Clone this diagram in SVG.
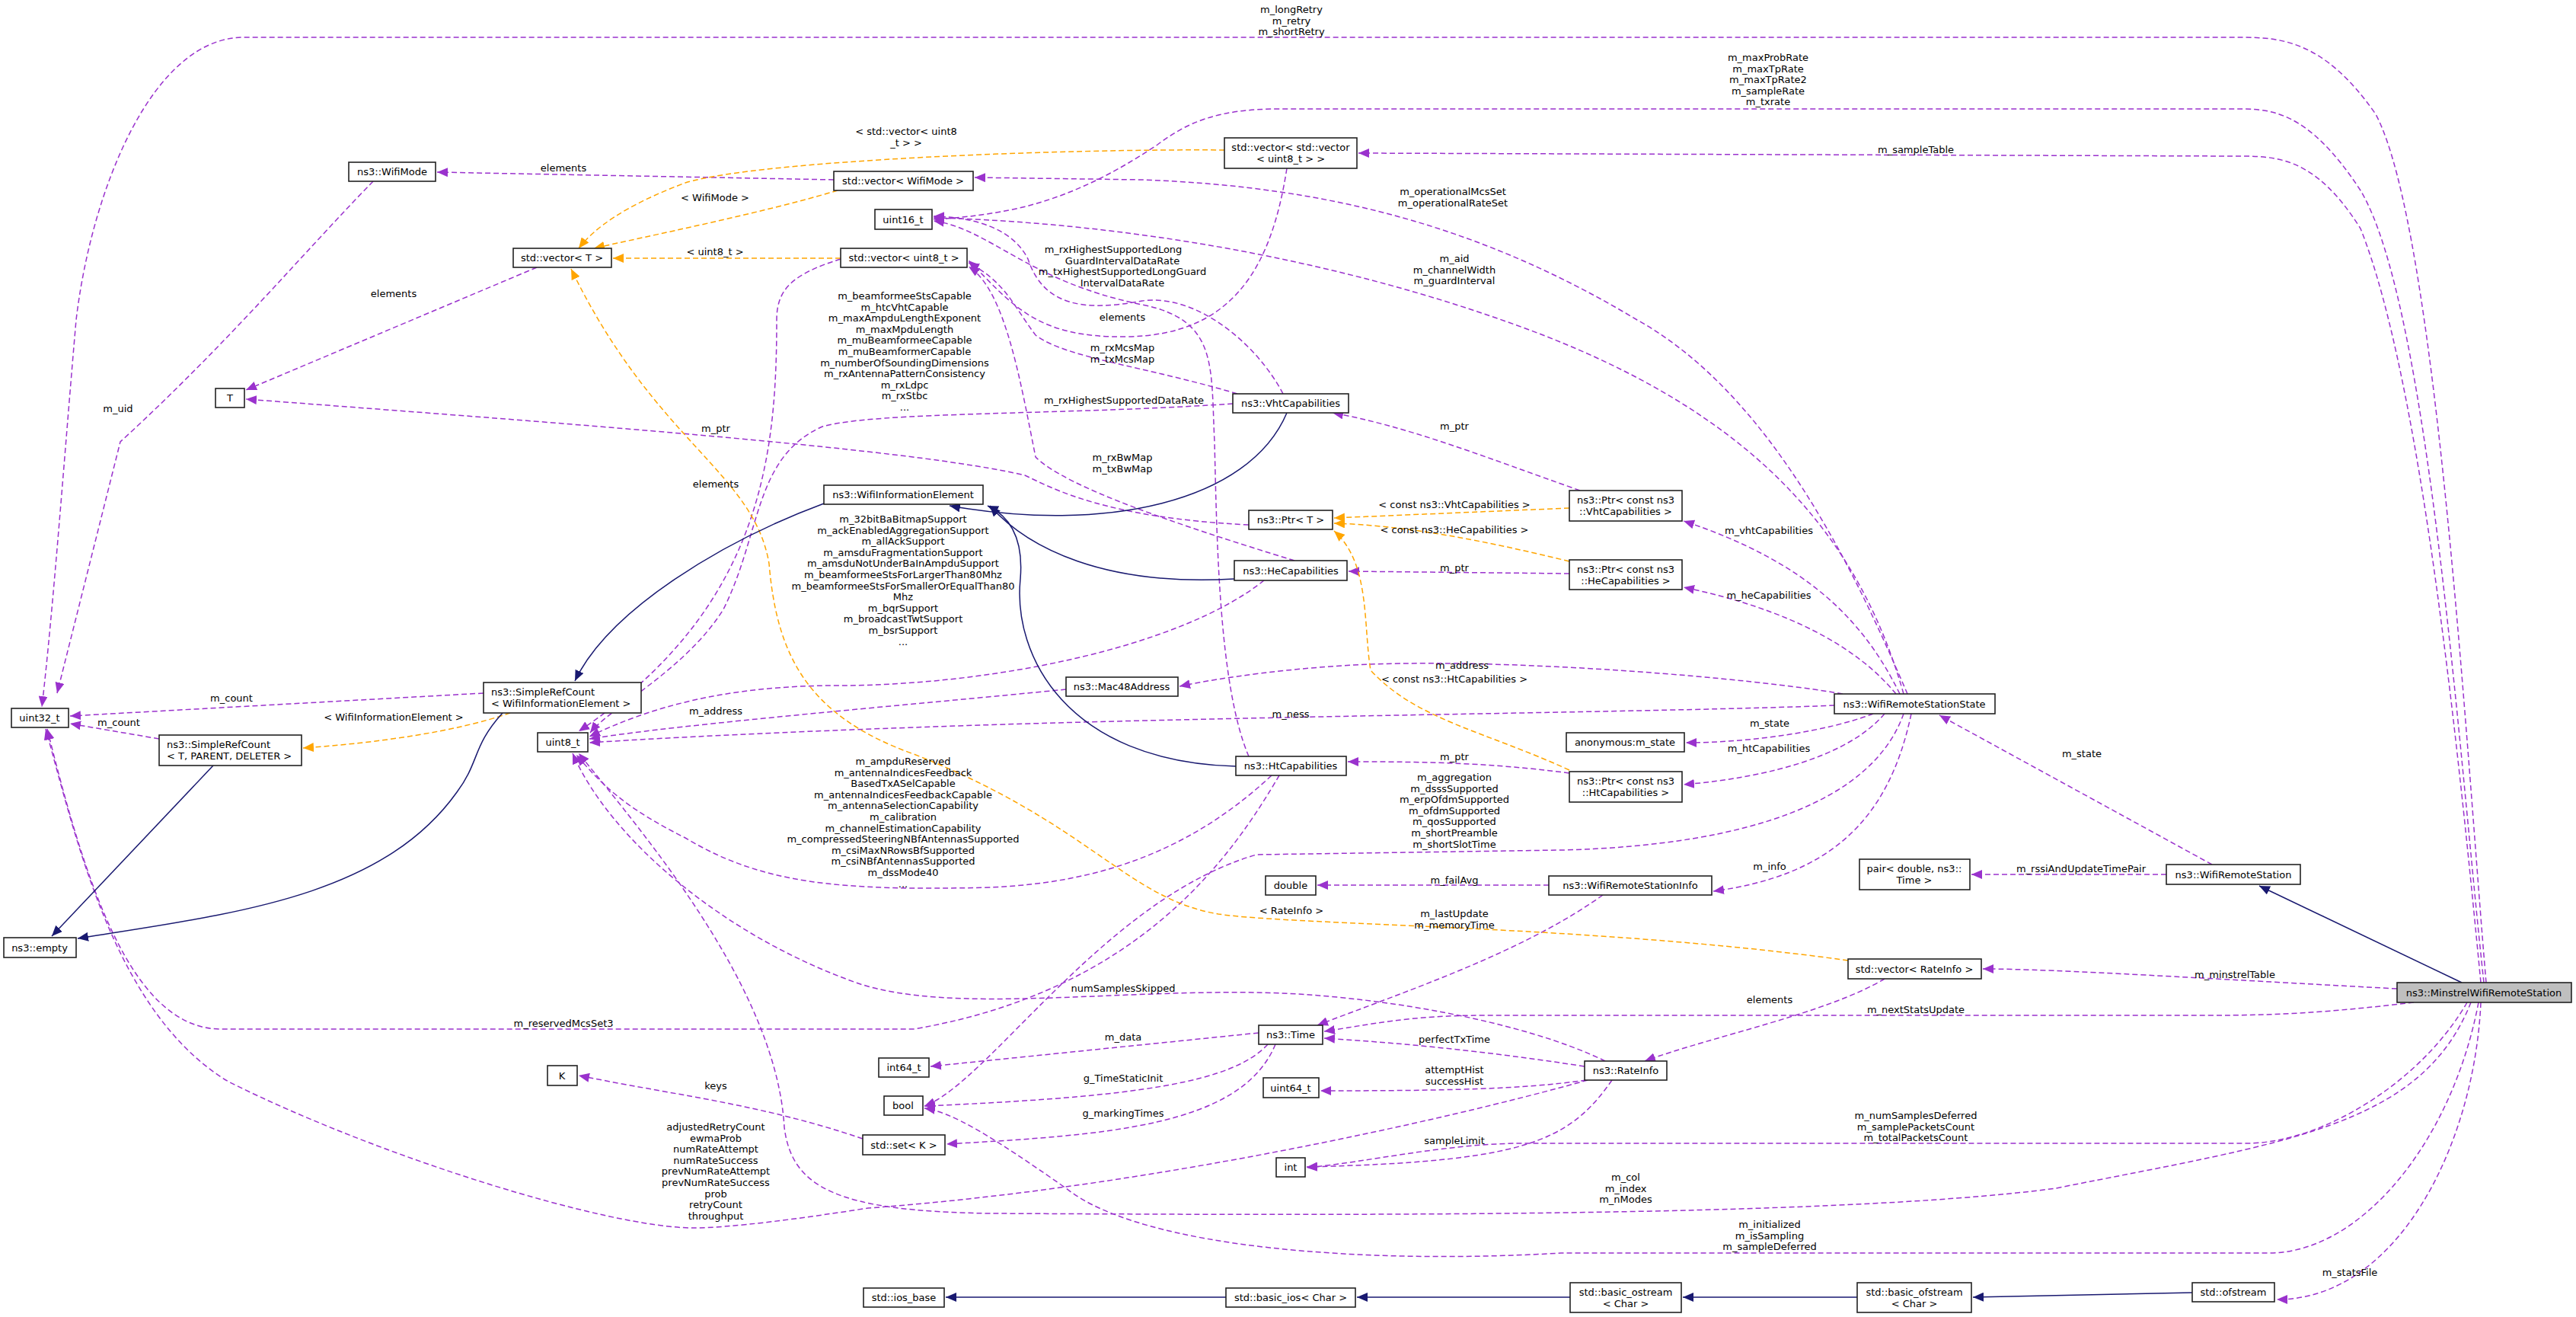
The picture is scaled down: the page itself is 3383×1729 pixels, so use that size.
<svg xmlns="http://www.w3.org/2000/svg" width="3383" height="1729" viewBox="0 0 3383 1729">
<style>
text{font-family:"DejaVu Sans","Liberation Sans",sans-serif;font-size:13px;fill:#000;text-anchor:middle}
.n rect{fill:#fff;stroke:#222;stroke-width:1.6}
.cur rect{fill:#bfbfbf}
.u{fill:none;stroke:#9a32cd;stroke-width:1.5;stroke-dasharray:7,4;marker-end:url(#ap)}
.t{fill:none;stroke:#ffa500;stroke-width:1.5;stroke-dasharray:7,4;marker-end:url(#ao)}
.i{fill:none;stroke:#191970;stroke-width:1.5;marker-end:url(#an)}
</style>
<defs>
<marker id="ap" markerUnits="userSpaceOnUse" markerWidth="16" markerHeight="12" refX="14" refY="6" orient="auto"><path d="M0,0L14,6L0,12z" fill="#9a32cd"/></marker>
<marker id="ao" markerUnits="userSpaceOnUse" markerWidth="16" markerHeight="12" refX="14" refY="6" orient="auto"><path d="M0,0L14,6L0,12z" fill="#ffa500"/></marker>
<marker id="an" markerUnits="userSpaceOnUse" markerWidth="16" markerHeight="12" refX="14" refY="6" orient="auto"><path d="M0,0L14,6L0,12z" fill="#191970"/></marker>
</defs>
<rect width="3383" height="1729" fill="#fff"/>
<g id="edges">
<path class="u" d="M3265,1290 C3240,1000 3200,300 3120,150 C3050,49 2990,49 2938,49 L320,49 C200,49 120,250 100,420 C86,580 70,800 55,928"/>
<path class="u" d="M3262,1290 C3230,1000 3190,400 3100,250 C3030,143 2980,143 2938,143 L1680,143 C1600,143 1560,160 1520,190 C1460,230 1400,260 1330,275 C1290,283 1260,286 1226,288"/>
<path class="u" d="M3258,1290 C3230,1000 3180,500 3100,300 C3040,205 2990,205 2938,205 L1784,201"/>
<path class="u" d="M2505,911 C2440,760 2330,520 2150,420 C1950,300 1750,245 1500,236 L1280,233"/>
<path class="u" d="M2500,911 C2440,700 2300,540 2000,430 C1700,320 1400,290 1226,286"/>
<path class="u" d="M2495,911 C2450,820 2380,740 2211,684"/>
<path class="u" d="M2490,911 C2440,850 2350,800 2211,771"/>
<path class="u" d="M2420,911 C2300,890 2000,865 1800,872 C1700,876 1600,890 1549,901"/>
<path class="u" d="M2409,926 C2200,935 1600,940 1200,955 C1000,962 850,970 774,975"/>
<path class="u" d="M2460,937 C2400,960 2300,975 2214,975"/>
<path class="u" d="M2475,937 C2430,990 2330,1020 2211,1030"/>
<path class="u" d="M2510,937 C2480,1080 2400,1150 2250,1170"/>
<path class="u" d="M2500,937 C2460,1050 2300,1110 2050,1116 L1650,1122 C1450,1180 1300,1420 1214,1452"/>
<path class="u" d="M3148,1298 C2900,1285 2700,1272 2604,1272"/>
<path class="u" d="M3170,1316 C3050,1330 2990,1333 2900,1333 L1950,1333 C1850,1333 1800,1345 1739,1354"/>
<path class="u" d="M3240,1316 C3180,1420 3050,1501 2950,1501 L2000,1501 C1900,1501 1800,1525 1716,1533"/>
<path class="u" d="M3245,1316 C3180,1480 3000,1500 2700,1560 C2400,1600 1700,1595 1300,1593 C1100,1590 1040,1560 1030,1480 C1020,1300 850,1100 760,989"/>
<path class="u" d="M3255,1316 C3220,1500 3100,1645 2980,1645 L2050,1645 C1800,1660 1500,1640 1400,1560 C1300,1490 1250,1460 1214,1455"/>
<path class="u" d="M3258,1316 C3250,1500 3150,1706 2990,1706"/>
<path class="u" d="M2905,1135 L2547,939"/>
<path class="u" d="M2845,1148 L2589,1148"/>
<path class="u" d="M2475,1285 C2400,1330 2250,1360 2160,1393"/>
<path class="u" d="M2081,1400 C1950,1380 1850,1370 1739,1363"/>
<path class="u" d="M2083,1418 C2000,1430 1900,1432 1734,1432"/>
<path class="u" d="M2117,1418 C2060,1500 2000,1525 1716,1532"/>
<path class="u" d="M2108,1393 C2000,1340 1800,1305 1650,1303 C1450,1300 1250,1330 1130,1292 C950,1230 800,1100 752,989"/>
<path class="u" d="M2085,1418 C1900,1470 1500,1560 1140,1586 C1050,1600 960,1612 910,1612 C800,1612 500,1520 300,1420 C150,1330 100,1100 60,957"/>
<path class="u" d="M1653,1356 L1222,1400"/>
<path class="u" d="M1665,1371 C1620,1420 1500,1440 1214,1452"/>
<path class="u" d="M1675,1371 C1630,1480 1450,1490 1243,1502"/>
<path class="u" d="M1133,1495 C1000,1450 900,1440 760,1412"/>
<path class="u" d="M2034,1162 L1730,1162"/>
<path class="u" d="M2105,1175 C2000,1250 1850,1300 1730,1346"/>
<path class="u" d="M2075,644 C1950,600 1850,560 1750,542"/>
<path class="u" d="M2061,753 L1771,750"/>
<path class="u" d="M2061,1015 C1950,1000 1850,1000 1770,1000"/>
<path class="u" d="M1640,689 C1450,680 1380,640 1346,624 C1200,590 800,560 323,524"/>
<path class="u" d="M705,351 L323,512"/>
<path class="u" d="M490,238 C400,330 300,450 158,580 L75,910"/>
<path class="u" d="M1095,236 L574,226"/>
<path class="u" d="M1690,221 C1670,350 1620,440 1480,442 C1360,444 1330,400 1272,342"/>
<path class="u" d="M1104,340 C1040,360 1020,380 1020,420 C1020,600 1000,800 760,960"/>
<path class="u" d="M1625,517 C1500,480 1400,470 1360,440 C1330,400 1320,370 1272,345"/>
<path class="u" d="M1685,517 C1650,450 1570,385 1500,395 C1420,410 1370,400 1350,340 C1330,300 1280,285 1226,284"/>
<path class="u" d="M1619,530 C1400,545 1150,540 1080,560 C990,600 1000,700 950,800 C900,880 800,930 775,962"/>
<path class="u" d="M1660,762 C1550,850 1300,900 1100,900 C950,900 850,930 774,967"/>
<path class="u" d="M1700,736 C1550,690 1400,640 1360,600 C1340,500 1320,380 1272,350"/>
<path class="u" d="M1670,1018 C1550,1130 1420,1160 1300,1165 C1100,1170 1000,1160 900,1100 C820,1060 790,1030 757,991"/>
<path class="u" d="M1640,993 C1600,900 1598,700 1595,580 C1590,480 1600,420 1500,400 C1350,370 1300,300 1226,290"/>
<path class="u" d="M1680,1018 C1620,1120 1500,1300 1200,1351 L290,1351 C170,1351 110,1150 62,957"/>
<path class="u" d="M1400,905 C1200,925 900,950 774,970"/>
<path class="u" d="M635,910 L92,940"/>
<path class="u" d="M209,970 L92,950"/>
<path class="t" d="M1100,250 C1000,280 850,310 780,326"/>
<path class="t" d="M1608,197 C1400,195 1000,210 900,240 C820,270 780,300 760,326"/>
<path class="t" d="M1104,339 L805,339"/>
<path class="t" d="M2427,1261 C2100,1215 1700,1215 1600,1200 C1480,1180 1430,1080 1200,990 C1060,940 1020,860 1010,740 C990,620 860,580 750,353"/>
<path class="t" d="M2061,667 L1752,680"/>
<path class="t" d="M2061,737 C1950,710 1850,690 1752,687"/>
<path class="t" d="M2061,1011 C1950,960 1860,945 1800,880 C1790,820 1800,740 1752,697"/>
<path class="t" d="M670,936 C600,960 500,975 398,982"/>
<path class="i" d="M3233,1290 L2967,1163"/>
<path class="i" d="M1690,542 C1640,660 1450,700 1247,664"/>
<path class="i" d="M1621,760 C1450,770 1350,720 1300,664"/>
<path class="i" d="M1623,1006 C1400,1000 1330,860 1340,760 C1345,700 1320,675 1297,664"/>
<path class="i" d="M1082,661 C950,710 800,800 755,894"/>
<path class="i" d="M660,936 C620,980 630,1000 600,1040 C500,1180 300,1200 102,1232"/>
<path class="i" d="M280,1005 L68,1229"/>
<path class="i" d="M2879,1697 L2591,1703"/>
<path class="i" d="M2439,1703 L2210,1703"/>
<path class="i" d="M2062,1703 L1782,1703"/>
<path class="i" d="M1610,1703 L1242,1703"/>
</g>
<g id="labels">
<text x="1696" y="17"><tspan x="1696">m_longRetry</tspan><tspan x="1696" dy="14.6">m_retry</tspan><tspan x="1696" dy="14.6">m_shortRetry</tspan></text>
<text x="2322" y="80"><tspan x="2322">m_maxProbRate</tspan><tspan x="2322" dy="14.6">m_maxTpRate</tspan><tspan x="2322" dy="14.6">m_maxTpRate2</tspan><tspan x="2322" dy="14.6">m_sampleRate</tspan><tspan x="2322" dy="14.6">m_txrate</tspan></text>
<text x="2516" y="201">m_sampleTable</text>
<text x="1190" y="177"><tspan x="1190">&lt; std::vector&lt; uint8</tspan><tspan x="1190" dy="14.6">_t &gt; &gt;</tspan></text>
<text x="740" y="225">elements</text>
<text x="939" y="264">&lt; WifiMode &gt;</text>
<text x="939" y="335">&lt; uint8_t &gt;</text>
<text x="1908" y="256"><tspan x="1908">m_operationalMcsSet</tspan><tspan x="1908" dy="14.6">m_operationalRateSet</tspan></text>
<text x="1910" y="344"><tspan x="1910">m_aid</tspan><tspan x="1910" dy="14.6">m_channelWidth</tspan><tspan x="1910" dy="14.6">m_guardInterval</tspan></text>
<text x="1474" y="332"><tspan x="1462">m_rxHighestSupportedLong</tspan><tspan x="1474" dy="14.6">GuardIntervalDataRate</tspan><tspan x="1474" dy="14.6">m_txHighestSupportedLongGuard</tspan><tspan x="1474" dy="14.6">IntervalDataRate</tspan></text>
<text x="517" y="390">elements</text>
<text x="1188" y="393"><tspan x="1188">m_beamformeeStsCapable</tspan><tspan x="1188" dy="14.6">m_htcVhtCapable</tspan><tspan x="1188" dy="14.6">m_maxAmpduLengthExponent</tspan><tspan x="1188" dy="14.6">m_maxMpduLength</tspan><tspan x="1188" dy="14.6">m_muBeamformeeCapable</tspan><tspan x="1188" dy="14.6">m_muBeamformerCapable</tspan><tspan x="1188" dy="14.6">m_numberOfSoundingDimensions</tspan><tspan x="1188" dy="14.6">m_rxAntennaPatternConsistency</tspan><tspan x="1188" dy="14.6">m_rxLdpc</tspan><tspan x="1188" dy="14.6">m_rxStbc</tspan><tspan x="1188" dy="14.6">...</tspan></text>
<text x="1474" y="421">elements</text>
<text x="1474" y="461"><tspan x="1474">m_rxMcsMap</tspan><tspan x="1474" dy="14.6">m_txMcsMap</tspan></text>
<text x="1476" y="530">m_rxHighestSupportedDataRate</text>
<text x="155" y="541">m_uid</text>
<text x="1910" y="564">m_ptr</text>
<text x="940" y="567">m_ptr</text>
<text x="1474" y="605"><tspan x="1474">m_rxBwMap</tspan><tspan x="1474" dy="14.6">m_txBwMap</tspan></text>
<text x="940" y="640">elements</text>
<text x="1910" y="667">&lt; const ns3::VhtCapabilities &gt;</text>
<text x="1910" y="700">&lt; const ns3::HeCapabilities &gt;</text>
<text x="1186" y="686"><tspan x="1186">m_32bitBaBitmapSupport</tspan><tspan x="1186" dy="14.6">m_ackEnabledAggregationSupport</tspan><tspan x="1186" dy="14.6">m_allAckSupport</tspan><tspan x="1186" dy="14.6">m_amsduFragmentationSupport</tspan><tspan x="1186" dy="14.6">m_amsduNotUnderBaInAmpduSupport</tspan><tspan x="1186" dy="14.6">m_beamformeeStsForLargerThan80Mhz</tspan><tspan x="1186" dy="14.6">m_beamformeeStsForSmallerOrEqualThan80</tspan><tspan x="1186" dy="14.6">Mhz</tspan><tspan x="1186" dy="14.6">m_bqrSupport</tspan><tspan x="1186" dy="14.6">m_broadcastTwtSupport</tspan><tspan x="1186" dy="14.6">m_bsrSupport</tspan><tspan x="1186" dy="14.6">...</tspan></text>
<text x="2323" y="701">m_vhtCapabilities</text>
<text x="1910" y="750">m_ptr</text>
<text x="2323" y="786">m_heCapabilities</text>
<text x="1920" y="878">m_address</text>
<text x="1910" y="896">&lt; const ns3::HtCapabilities &gt;</text>
<text x="304" y="921">m_count</text>
<text x="940" y="938">m_address</text>
<text x="1695" y="942">m_ness</text>
<text x="517" y="946">&lt; WifiInformationElement &gt;</text>
<text x="156" y="953">m_count</text>
<text x="2324" y="954">m_state</text>
<text x="2323" y="987">m_htCapabilities</text>
<text x="2734" y="994">m_state</text>
<text x="1910" y="998">m_ptr</text>
<text x="1186" y="1004"><tspan x="1186">m_ampduReserved</tspan><tspan x="1186" dy="14.6">m_antennaIndicesFeedback</tspan><tspan x="1186" dy="14.6">BasedTxASelCapable</tspan><tspan x="1186" dy="14.6">m_antennaIndicesFeedbackCapable</tspan><tspan x="1186" dy="14.6">m_antennaSelectionCapability</tspan><tspan x="1186" dy="14.6">m_calibration</tspan><tspan x="1186" dy="14.6">m_channelEstimationCapability</tspan><tspan x="1186" dy="14.6">m_compressedSteeringNBfAntennasSupported</tspan><tspan x="1186" dy="14.6">m_csiMaxNRowsBfSupported</tspan><tspan x="1186" dy="14.6">m_csiNBfAntennasSupported</tspan><tspan x="1186" dy="14.6">m_dssMode40</tspan><tspan x="1186" dy="14.6">...</tspan></text>
<text x="1910" y="1025"><tspan x="1910">m_aggregation</tspan><tspan x="1910" dy="14.6">m_dsssSupported</tspan><tspan x="1910" dy="14.6">m_erpOfdmSupported</tspan><tspan x="1910" dy="14.6">m_ofdmSupported</tspan><tspan x="1910" dy="14.6">m_qosSupported</tspan><tspan x="1910" dy="14.6">m_shortPreamble</tspan><tspan x="1910" dy="14.6">m_shortSlotTime</tspan></text>
<text x="2324" y="1142">m_info</text>
<text x="2733" y="1145">m_rssiAndUpdateTimePair</text>
<text x="1910" y="1160">m_failAvg</text>
<text x="1696" y="1200">&lt; RateInfo &gt;</text>
<text x="1910" y="1204"><tspan x="1910">m_lastUpdate</tspan><tspan x="1910" dy="14.6">m_memoryTime</tspan></text>
<text x="2935" y="1284">m_minstrelTable</text>
<text x="1475" y="1302">numSamplesSkipped</text>
<text x="2324" y="1317">elements</text>
<text x="2516" y="1330">m_nextStatsUpdate</text>
<text x="740" y="1348">m_reservedMcsSet3</text>
<text x="1475" y="1366">m_data</text>
<text x="1910" y="1369">perfectTxTime</text>
<text x="1910" y="1409"><tspan x="1910">attemptHist</tspan><tspan x="1910" dy="14.6">successHist</tspan></text>
<text x="1475" y="1420">g_TimeStaticInit</text>
<text x="940" y="1430">keys</text>
<text x="1475" y="1466">g_markingTimes</text>
<text x="2516" y="1469"><tspan x="2516">m_numSamplesDeferred</tspan><tspan x="2516" dy="14.6">m_samplePacketsCount</tspan><tspan x="2516" dy="14.6">m_totalPacketsCount</tspan></text>
<text x="940" y="1484"><tspan x="940">adjustedRetryCount</tspan><tspan x="940" dy="14.6">ewmaProb</tspan><tspan x="940" dy="14.6">numRateAttempt</tspan><tspan x="940" dy="14.6">numRateSuccess</tspan><tspan x="940" dy="14.6">prevNumRateAttempt</tspan><tspan x="940" dy="14.6">prevNumRateSuccess</tspan><tspan x="940" dy="14.6">prob</tspan><tspan x="940" dy="14.6">retryCount</tspan><tspan x="940" dy="14.6">throughput</tspan></text>
<text x="1910" y="1502">sampleLimit</text>
<text x="2135" y="1550"><tspan x="2135">m_col</tspan><tspan x="2135" dy="14.6">m_index</tspan><tspan x="2135" dy="14.6">m_nModes</tspan></text>
<text x="2324" y="1612"><tspan x="2324">m_initialized</tspan><tspan x="2324" dy="14.6">m_isSampling</tspan><tspan x="2324" dy="14.6">m_sampleDeferred</tspan></text>
<text x="3086" y="1675">m_statsFile</text>
</g>
<g id="n_wifimode" class="n"><rect x="458" y="213" width="114" height="25"/><text x="515" y="230">ns3::WifiMode</text></g>
<g id="n_vectorT" class="n"><rect x="674" y="326" width="129" height="25"/><text x="738" y="343">std::vector&lt; T &gt;</text></g>
<g id="n_T" class="n"><rect x="283" y="510" width="38" height="25"/><text x="302" y="527">T</text></g>
<g id="n_vecvec" class="n"><rect x="1608" y="181" width="174" height="40"/><text x="1695" y="198">std::vector&lt; std::vector</text><text x="1695" y="213">&lt; uint8_t &gt; &gt;</text></g>
<g id="n_vecwifimode" class="n"><rect x="1095" y="225" width="183" height="25"/><text x="1186" y="242">std::vector&lt; WifiMode &gt;</text></g>
<g id="n_uint16" class="n"><rect x="1149" y="275" width="75" height="26"/><text x="1186" y="293">uint16_t</text></g>
<g id="n_vecuint8" class="n"><rect x="1104" y="326" width="166" height="25"/><text x="1187" y="343">std::vector&lt; uint8_t &gt;</text></g>
<g id="n_vht" class="n"><rect x="1619" y="517" width="152" height="25"/><text x="1695" y="534">ns3::VhtCapabilities</text></g>
<g id="n_uint32" class="n"><rect x="15" y="930" width="75" height="25"/><text x="52" y="947">uint32_t</text></g>
<g id="n_srcwie" class="n"><rect x="635" y="896" width="207" height="40"/><text x="645" y="913" style="text-anchor:start">ns3::SimpleRefCount</text><text x="645" y="928" style="text-anchor:start">&lt; WifiInformationElement &gt;</text></g>
<g id="n_srctpd" class="n"><rect x="209" y="965" width="187" height="40"/><text x="219" y="982" style="text-anchor:start">ns3::SimpleRefCount</text><text x="219" y="997" style="text-anchor:start">&lt; T, PARENT, DELETER &gt;</text></g>
<g id="n_uint8" class="n"><rect x="706" y="962" width="66" height="25"/><text x="739" y="979">uint8_t</text></g>
<g id="n_wie" class="n"><rect x="1082" y="637" width="209" height="25"/><text x="1186" y="654">ns3::WifiInformationElement</text></g>
<g id="n_ptrT" class="n"><rect x="1640" y="670" width="110" height="25"/><text x="1695" y="687">ns3::Ptr&lt; T &gt;</text></g>
<g id="n_ptrvht" class="n"><rect x="2061" y="644" width="148" height="40"/><text x="2135" y="661">ns3::Ptr&lt; const ns3</text><text x="2135" y="676">::VhtCapabilities &gt;</text></g>
<g id="n_he" class="n"><rect x="1621" y="736" width="148" height="26"/><text x="1695" y="754">ns3::HeCapabilities</text></g>
<g id="n_ptrhe" class="n"><rect x="2061" y="735" width="148" height="39"/><text x="2135" y="752">ns3::Ptr&lt; const ns3</text><text x="2135" y="767">::HeCapabilities &gt;</text></g>
<g id="n_mac48" class="n"><rect x="1400" y="889" width="147" height="25"/><text x="1473" y="906">ns3::Mac48Address</text></g>
<g id="n_anon" class="n"><rect x="2057" y="962" width="155" height="25"/><text x="2134" y="979">anonymous:m_state</text></g>
<g id="n_ht" class="n"><rect x="1623" y="993" width="145" height="25"/><text x="1695" y="1010">ns3::HtCapabilities</text></g>
<g id="n_ptrht" class="n"><rect x="2061" y="1013" width="148" height="40"/><text x="2135" y="1030">ns3::Ptr&lt; const ns3</text><text x="2135" y="1045">::HtCapabilities &gt;</text></g>
<g id="n_double" class="n"><rect x="1662" y="1150" width="66" height="25"/><text x="1695" y="1167">double</text></g>
<g id="n_wrsi" class="n"><rect x="2034" y="1150" width="214" height="25"/><text x="2141" y="1167">ns3::WifiRemoteStationInfo</text></g>
<g id="n_wrss" class="n"><rect x="2409" y="911" width="211" height="26"/><text x="2514" y="929">ns3::WifiRemoteStationState</text></g>
<g id="n_pair" class="n"><rect x="2442" y="1128" width="145" height="40"/><text x="2514" y="1145">pair&lt; double, ns3::</text><text x="2514" y="1160">Time &gt;</text></g>
<g id="n_wrs" class="n"><rect x="2845" y="1135" width="176" height="26"/><text x="2933" y="1153">ns3::WifiRemoteStation</text></g>
<g id="n_empty" class="n"><rect x="5" y="1231" width="95" height="26"/><text x="52" y="1249">ns3::empty</text></g>
<g id="n_K" class="n"><rect x="719" y="1399" width="39" height="26"/><text x="738" y="1417">K</text></g>
<g id="n_time" class="n"><rect x="1653" y="1346" width="84" height="25"/><text x="1695" y="1363">ns3::Time</text></g>
<g id="n_int64" class="n"><rect x="1154" y="1389" width="66" height="25"/><text x="1187" y="1406">int64_t</text></g>
<g id="n_bool" class="n"><rect x="1161" y="1439" width="51" height="25"/><text x="1186" y="1456">bool</text></g>
<g id="n_setK" class="n"><rect x="1133" y="1490" width="108" height="26"/><text x="1187" y="1508">std::set&lt; K &gt;</text></g>
<g id="n_uint64" class="n"><rect x="1659" y="1415" width="73" height="26"/><text x="1695" y="1433">uint64_t</text></g>
<g id="n_rateinfo" class="n"><rect x="2081" y="1393" width="108" height="25"/><text x="2135" y="1410">ns3::RateInfo</text></g>
<g id="n_int" class="n"><rect x="1676" y="1520" width="38" height="25"/><text x="1695" y="1537">int</text></g>
<g id="n_iosbase" class="n"><rect x="1134" y="1691" width="106" height="25"/><text x="1187" y="1708">std::ios_base</text></g>
<g id="n_basicios" class="n"><rect x="1610" y="1691" width="170" height="25"/><text x="1695" y="1708">std::basic_ios&lt; Char &gt;</text></g>
<g id="n_basicostream" class="n"><rect x="2062" y="1684" width="146" height="39"/><text x="2135" y="1701">std::basic_ostream</text><text x="2135" y="1716">&lt; Char &gt;</text></g>
<g id="n_vecrateinfo" class="n"><rect x="2427" y="1259" width="175" height="26"/><text x="2514" y="1277">std::vector&lt; RateInfo &gt;</text></g>
<g id="n_minstrel" class="n cur"><rect x="3148" y="1290" width="229" height="26"/><text x="3262" y="1308">ns3::MinstrelWifiRemoteStation</text></g>
<g id="n_basicofstream" class="n"><rect x="2439" y="1684" width="150" height="39"/><text x="2514" y="1701">std::basic_ofstream</text><text x="2514" y="1716">&lt; Char &gt;</text></g>
<g id="n_ofstream" class="n"><rect x="2879" y="1684" width="108" height="25"/><text x="2933" y="1701">std::ofstream</text></g>
</svg>
